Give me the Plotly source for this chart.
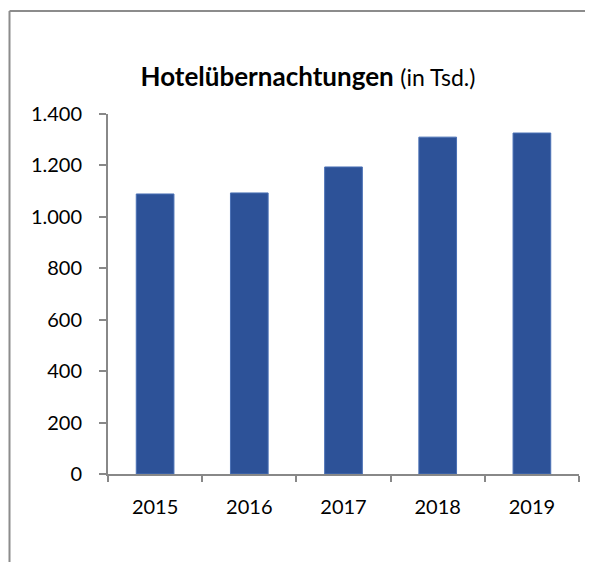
import plotly.graph_objects as go

years = ["2015", "2016", "2017", "2018", "2019"]
values = [1089, 1093, 1194, 1310, 1326]
y_ticks = [0, 200, 400, 600, 800, 1000, 1200, 1400]

FONT = "Lato"

fig = go.Figure()
fig.add_trace(go.Bar(
    x=years, y=values,
    marker=dict(color="#2D5298", line=dict(color="#4A70B5", width=1)),
))

# page body has an 8px default margin; the figure is sized to fit without scrolling
OFF = 8
W, H = 593 - OFF, 570 - 2 * OFF
L, R, T = 108 - OFF, 14, 114 - OFF
B = H - (474 - OFF)
pw = W - L - R
ph = H - T - B

fig.update_layout(
    width=W, height=H,
    margin=dict(l=L, r=R, t=T, b=B, pad=0),
    paper_bgcolor="white", plot_bgcolor="white",
    separators=",.",
    showlegend=False,
    bargap=0.6,
    font=dict(family=FONT, size=20, color="#000000"),
    title=dict(
        text="<b>Hotelübernachtungen</b> <span style='font-size:23px'>(in Tsd.)</span>",
        x=(308 - OFF) / W, xanchor="center",
        y=1 - (77 - OFF) / H, yanchor="middle",
        font=dict(family=FONT, size=26, color="#000000"),
    ),
    xaxis=dict(
        type="category",
        showline=True, linecolor="#888888", linewidth=2,
        ticks="outside", ticklen=6, tickcolor="#888888", tickwidth=2,
        tickson="boundaries",
        showgrid=False, zeroline=False,
        ticklabelstandoff=14,
    ),
    yaxis=dict(
        range=[0, 1400],
        tickvals=y_ticks,
        tickformat=",d",
        showline=True, linecolor="#888888", linewidth=2,
        ticks="outside", ticklen=7, tickcolor="#888888", tickwidth=2,
        showgrid=False, zeroline=False,
        ticklabelstandoff=13,
    ),
    shapes=[
        dict(type="line", xref="paper", yref="paper",
             x0=(9.5 - 108) / pw, x1=(9.5 - 108) / pw,
             y0=-(B + 50) / ph, y1=1 + (114 - 11) / ph,
             line=dict(color="#8C8C8C", width=2), layer="below"),
        dict(type="line", xref="paper", yref="paper",
             x0=(9.5 - 108) / pw, x1=1 + 50 / pw,
             y0=1 + (114 - 11) / ph, y1=1 + (114 - 11) / ph,
             line=dict(color="#8C8C8C", width=2), layer="below"),
    ],
)

fig.write_html("out.html", config={"displayModeBar": False})
